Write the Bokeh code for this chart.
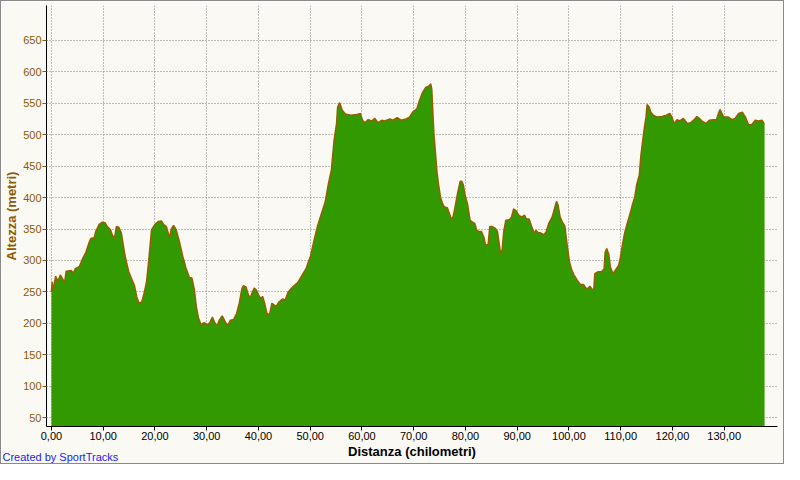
from bokeh.plotting import figure
from bokeh.models import FixedTicker, CustomJSTickFormatter, Range1d, Title
from bokeh.embed import file_html
from bokeh.resources import INLINE

# ---- data ----
distance_km = [
    0.0, 0.15, 0.32, 0.82, 1.27, 1.71, 2.09, 2.54, 2.85, 3.81, 4.25, 4.63, 5.39, 6.03, 6.66, 7.30, 7.61, 8.25,
    8.56, 9.20, 9.83, 10.34, 10.79, 11.42, 11.74, 12.18, 12.56, 13.01, 13.51, 13.96, 14.27, 14.91, 15.54, 16.05,
    16.50, 16.94, 17.45, 17.95, 18.40, 18.84, 19.35, 19.98, 20.62, 21.25, 21.70, 22.21, 22.84, 23.16, 23.6, 24.1,
    24.7, 25.4, 26.0, 26.65, 27.15, 27.6, 28.0, 28.4, 28.9, 29.5, 30.1, 30.6, 31.1, 31.5, 32.0, 32.5, 33.0, 33.5,
    34.0, 34.6, 35.2, 35.8, 36.3, 36.8, 37.1, 37.6, 38.1, 38.5, 38.8, 39.2, 39.6, 40.1, 40.5, 40.8, 41.2, 41.7,
    42.2, 42.6, 43.1, 43.45, 43.96, 44.4, 44.7, 45.17, 45.7, 46.3, 46.9, 47.6, 47.9, 49.2, 50.1, 50.8, 51.4, 52.2,
    52.9, 53.5, 54.1, 54.6, 55.1, 55.3, 55.7, 56.2, 56.8, 57.8, 59.0, 59.7, 60.1, 60.6, 61.2, 61.9, 62.5, 63.1,
    63.8, 64.4, 65.4, 66.0, 66.8, 67.6, 68.5, 69.2, 69.8, 70.6, 71.1, 71.7, 72.3, 72.9, 73.3, 73.5, 73.9, 74.2,
    74.5, 74.8, 75.2, 75.6, 75.95, 76.5, 76.8, 77.3, 77.6, 78.0, 78.5, 79.0, 79.3, 79.6, 79.9, 80.4, 80.9, 81.4,
    81.8, 82.2, 82.7, 83.1, 83.6, 83.9, 84.4, 84.7, 85.2, 85.8, 86.2, 86.5, 86.8, 87.1, 87.4, 87.8, 88.5, 88.9,
    89.3, 89.8, 90.3, 90.9, 91.4, 91.8, 92.3, 92.8, 93.3, 93.6, 94.1, 94.5, 95.2, 95.6, 96.1, 96.75, 97.3, 97.6,
    97.9, 98.3, 98.8, 99.2, 99.6, 100.1, 100.5, 100.9, 101.5, 102.2, 102.8, 103.2, 103.6, 104.05, 104.5, 104.8,
    105.0, 105.6, 106.3, 106.8, 107.0, 107.3, 107.7, 108.0, 108.5, 109.1, 109.6, 109.95, 110.4, 110.8, 111.3,
    111.9, 112.3, 112.7, 113.1, 113.6, 113.9, 114.2, 114.6, 114.9, 115.1, 115.5, 115.8, 116.3, 117.0, 118.0,
    118.8, 119.5, 119.9, 120.3, 120.9, 121.4, 122.1, 122.9, 123.5, 124.2, 124.7, 125.2, 125.8, 126.5, 127.1,
    127.9, 128.5, 128.9, 129.2, 129.5, 129.9, 130.8, 131.5, 132.1, 132.8, 133.5, 134.1, 134.7, 135.3, 136.0,
    136.6, 137.3, 137.7, 137.8,
]
altitude_m = [
    250, 266, 252, 275, 267, 277, 272, 265, 283, 284, 280, 287, 290, 303, 313, 329, 335, 336,
    346, 357, 361, 360, 354, 349, 341, 335, 354, 353, 344, 321, 306, 283, 270, 260,
    242, 232, 234, 249, 267, 303, 349, 357, 362, 363, 357, 354, 336, 350, 356, 349,
    331, 306, 288, 273, 272, 255, 227, 209, 198, 201, 198, 201, 210, 202, 196, 206, 212, 204,
    196, 205, 206, 216, 232, 255, 260, 258, 244, 242, 249, 256, 253, 244, 239, 243, 232, 214,
    216, 232, 229, 227, 234, 237, 239, 237, 249, 255, 260, 265, 269, 287, 308, 334, 354, 375,
    393, 421, 444, 490, 518, 544, 551, 539, 533, 531, 532, 534, 523, 519, 524, 522, 526, 519,
    523, 522, 525, 523, 527, 523, 525, 528, 536, 541, 554, 567, 575, 577, 581, 572, 503, 472,
    441, 421, 400, 390, 385, 384, 377, 366, 369, 385, 408, 426, 426, 420, 405, 390, 364, 361,
    359, 348, 346, 346, 336, 324, 326, 354, 354, 351, 346, 328, 310, 318, 346, 364, 365, 369,
    382, 379, 372, 369, 372, 366, 366, 354, 343, 348, 344, 344, 341, 346, 359, 369, 385, 394,
    388, 369, 360, 355, 328, 298, 286, 278, 270, 262, 262, 257, 255, 259, 254, 254,
    279, 282, 282, 287, 313, 319, 310, 290, 279, 286, 292, 305, 328, 345, 360,
    377, 390, 400, 421, 436, 467, 487, 513, 528, 548, 544, 536, 531, 528, 529,
    531, 534, 528, 518, 524, 522, 526, 518, 519, 524, 529, 526, 521, 518, 523,
    524, 524, 534, 540, 535, 528, 528, 524, 526, 534, 536, 528, 516, 516, 523,
    522, 523, 518, 518,
]
x_ticks = [0, 10, 20, 30, 40, 50, 60, 70, 80, 90, 100, 110, 120, 130]
y_ticks = [50, 100, 150, 200, 250, 300, 350, 400, 450, 500, 550, 600, 650]
x_title = "Distanza (chilometri)"
y_title = "Altezza (metri)"
credit = "Created by SportTracks"

BG = "#fbf9f4"
BROWN = "#8c5a00"

p = figure(width=784, height=464, output_backend="svg", toolbar_location=None,
           x_range=Range1d(-0.95, 140.3), y_range=Range1d(36, 705.5),
           min_border_left=42, min_border_right=8, min_border_top=4, min_border_bottom=39)
p.background_fill_color = BG
p.border_fill_color = BG
p.outline_line_color = None
p.styles = {"border": "1px solid #8a8a8a", "box-sizing": "border-box"}

p.varea(x=distance_km, y1=0, y2=altitude_m, fill_color="#339900")
p.line(x=distance_km, y=altitude_m, line_color="#946000", line_width=1.5)

for ax in (p.xaxis[0], p.yaxis[0]):
    ax.axis_line_color = "black"
    ax.major_tick_out = 4
    ax.major_tick_in = 0
    ax.minor_tick_line_color = None
    ax.major_label_text_font = "Liberation Sans"
    ax.major_label_text_font_size = "11px"
    ax.axis_label_text_font = "Liberation Sans"
    ax.axis_label_text_font_size = "13px"
    ax.axis_label_text_font_style = "bold"
    ax.major_label_standoff = 1
    ax.axis_label_standoff = 1

p.xaxis.ticker = FixedTicker(ticks=x_ticks)
p.yaxis.ticker = FixedTicker(ticks=y_ticks)
p.xaxis.formatter = CustomJSTickFormatter(code="return tick.toFixed(2).replace('.', ',');")
p.xaxis.axis_label = x_title
p.yaxis.axis_label = y_title
p.xaxis.major_label_text_color = "black"
p.xaxis.axis_label_text_color = "black"
p.yaxis.major_label_text_color = BROWN
p.yaxis.axis_label_text_color = BROWN
p.yaxis.major_tick_line_color = BROWN

for g in (p.xgrid[0], p.ygrid[0]):
    g.grid_line_color = "#808080"
    g.grid_line_dash = "1 2"
    g.grid_line_width = 1

p.add_layout(Title(text=credit, align="left", vertical_align="top", offset=-44, standoff=-22,
                   text_font="Liberation Sans", text_font_size="11px", text_font_style="normal",
                   text_color="#1a1aff"), "below")

open("out.html", "w").write(file_html(p, INLINE))
